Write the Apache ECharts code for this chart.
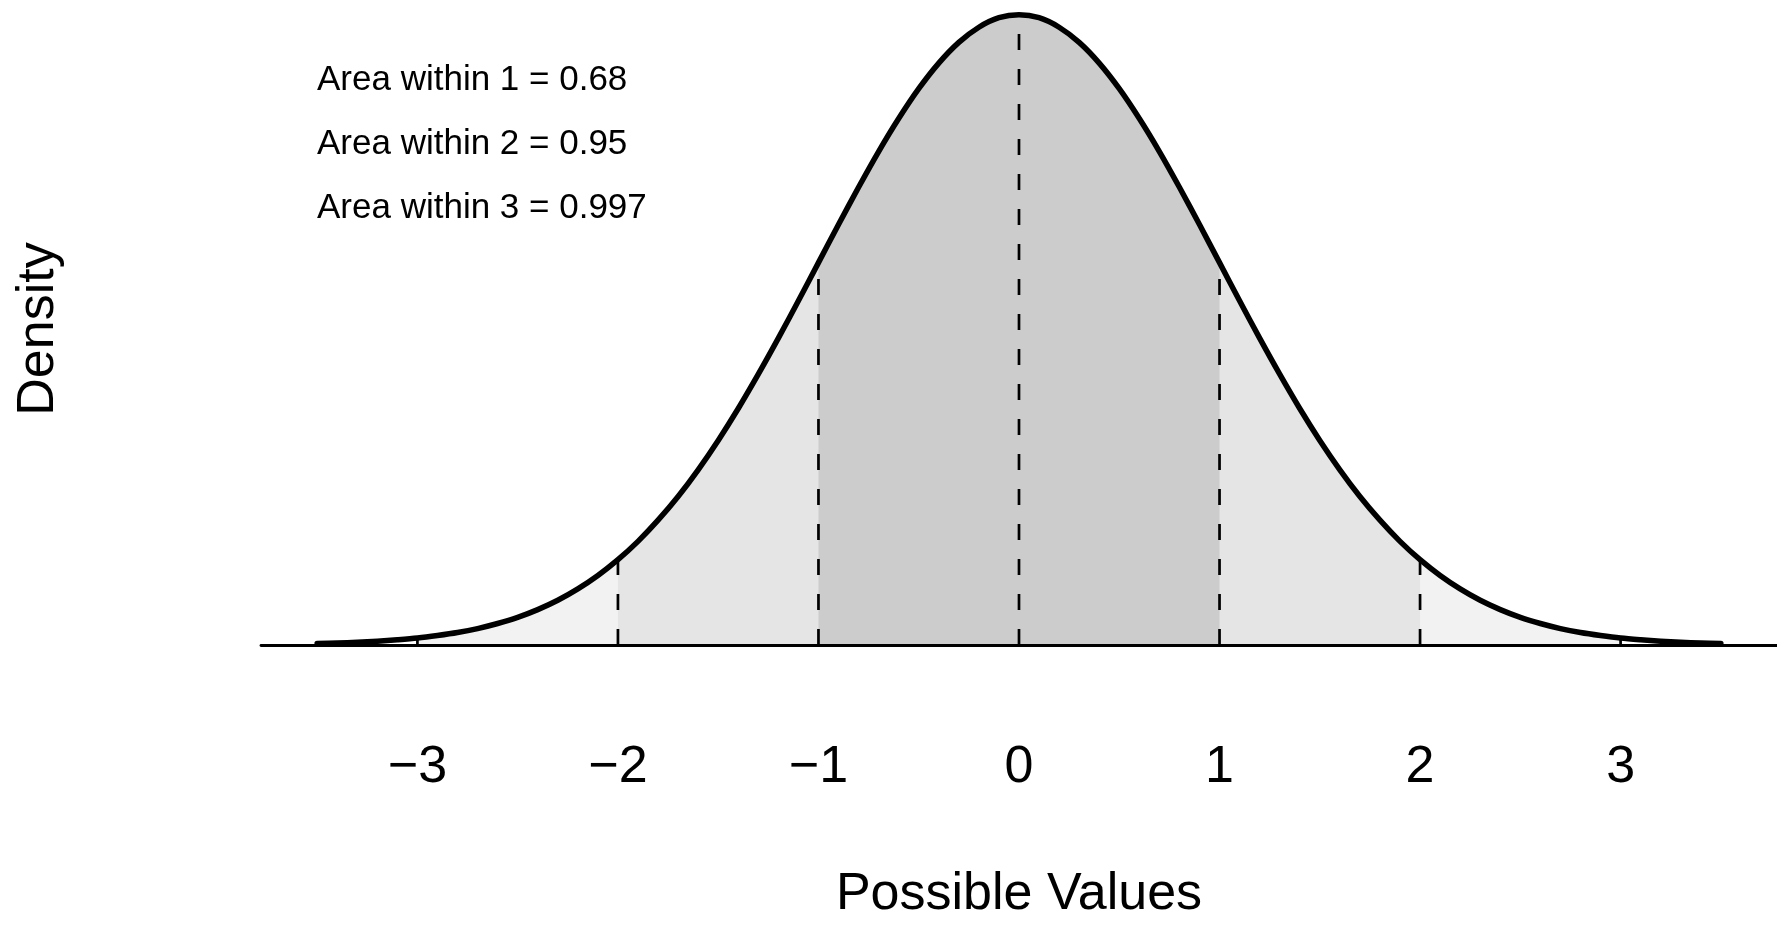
<!DOCTYPE html>
<html>
<head>
<meta charset="utf-8">
<script src="https://cdn.jsdelivr.net/npm/echarts@6/dist/echarts.min.js"></script>
<style>
html,body{margin:0;padding:0;background:#fff;overflow:hidden;}
#chart{width:1777px;height:926px;}
</style>
</head>
<body>
<div id="chart"></div>
<script>
// x positions of the density curve
var xs = [-3.5,-3.4,-3.3,-3.2,-3.1,-3.0,-2.9,-2.8,-2.7,-2.6,-2.5,-2.4,-2.3,-2.2,-2.1,-2.0,-1.9,-1.8,-1.7,-1.6,-1.5,-1.4,-1.3,-1.2,-1.1,-1.0,-0.9,-0.8,-0.7,-0.6,-0.5,-0.4,-0.3,-0.2,-0.1,0.0,0.1,0.2,0.3,0.4,0.5,0.6,0.7,0.8,0.9,1.0,1.1,1.2,1.3,1.4,1.5,1.6,1.7,1.8,1.9,2.0,2.1,2.2,2.3,2.4,2.5,2.6,2.7,2.8,2.9,3.0,3.1,3.2,3.3,3.4,3.5];
// density heights
var ys = [0.0009,0.0012,0.0017,0.0024,0.0033,0.0044,0.0060,0.0079,0.0104,0.0136,0.0175,0.0224,0.0283,0.0355,0.0440,0.0540,0.0656,0.0790,0.0940,0.1109,0.1295,0.1497,0.1714,0.1942,0.2179,0.2420,0.2661,0.2897,0.3123,0.3332,0.3521,0.3683,0.3814,0.3910,0.3970,0.3989,0.3970,0.3910,0.3814,0.3683,0.3521,0.3332,0.3123,0.2897,0.2661,0.2420,0.2179,0.1942,0.1714,0.1497,0.1295,0.1109,0.0940,0.0790,0.0656,0.0540,0.0440,0.0355,0.0283,0.0224,0.0175,0.0136,0.0104,0.0079,0.0060,0.0044,0.0033,0.0024,0.0017,0.0012,0.0009];
// shaded bands (half-widths) and their fills
var bands = [3, 2, 1];
var bandColors = ['#F2F2F2', '#E5E5E5', '#CCCCCC'];
// vertical dashed guide positions
var guides = [-3, -2, -1, 0, 1, 2, 3];
// tick labels
var tickValues = [-3, -2, -1, 0, 1, 2, 3];
// annotation texts
var notes = ['Area within 1 = 0.68', 'Area within 2 = 0.95', 'Area within 3 = 0.997'];
var xTitle = 'Possible Values';
var yTitle = 'Density';

var FONT = 'Liberation Sans, Arial, Helvetica, sans-serif';
var curve = xs.map(function(x, i){ return [x, ys[i]]; });
function densAt(x){
  for (var i = 0; i < xs.length; i++) if (Math.abs(xs[i] - x) < 1e-9) return ys[i];
  return 0;
}

var series = [];
bands.forEach(function(b, k){
  series.push({
    type: 'line', name: 'band' + b, z: 2 + k,
    data: curve.filter(function(p){ return p[0] >= -b - 1e-9 && p[0] <= b + 1e-9; }),
    smooth: 0.3, showSymbol: false, silent: true,
    lineStyle: { width: 0 },
    areaStyle: { color: bandColors[k], opacity: 1, origin: 'start' }
  });
});
guides.forEach(function(g){
  series.push({
    type: 'line', name: 'guide' + g, z: 6,
    data: [[g, 0], [g, densAt(g)]],
    showSymbol: false, silent: true, clip: false,
    lineStyle: { color: '#000', width: 2.7, type: [16, 19] }
  });
});
series.push({
  type: 'line', name: 'density', z: 8,
  data: curve, smooth: 0.3, showSymbol: false, clip: false,
  lineStyle: { color: '#000', width: 5.5, cap: 'round', join: 'round' }
});

var graphics = notes.map(function(t, i){
  return {
    type: 'text', left: 317, top: 63 + 64 * i,
    style: { text: t, font: '35px ' + FONT, fill: '#000' }
  };
});

var chart = echarts.init(document.getElementById('chart'), null, { renderer: 'canvas' });
chart.setOption({
  animation: false,
  backgroundColor: '#fff',
  grid: { left: 261, right: 0, top: 13, bottom: 272, containLabel: false },
  xAxis: {
    type: 'value', min: -3.78, max: 3.78, z: 20,
    name: xTitle, nameLocation: 'middle', nameGap: 224,
    nameTextStyle: { fontSize: 52, fontFamily: FONT, color: '#000' },
    axisLine: { show: true, onZero: false, lineStyle: { color: '#000', width: 2.8 } },
    axisTick: { show: false },
    splitLine: { show: false },
    axisLabel: {
      customValues: tickValues, margin: 97,
      fontSize: 52, fontFamily: FONT, color: '#000',
      formatter: function(v){ return String(v).replace('-', '\u2212'); }
    }
  },
  yAxis: {
    type: 'value', min: 0, max: 0.4,
    name: yTitle, nameLocation: 'middle', nameGap: 196, nameRotate: 90,
    nameTextStyle: { fontSize: 52, fontFamily: FONT, color: '#000' },
    axisLine: { show: false }, axisTick: { show: false },
    axisLabel: { show: false }, splitLine: { show: false }
  },
  graphic: graphics,
  series: series
});
</script>
</body>
</html>
